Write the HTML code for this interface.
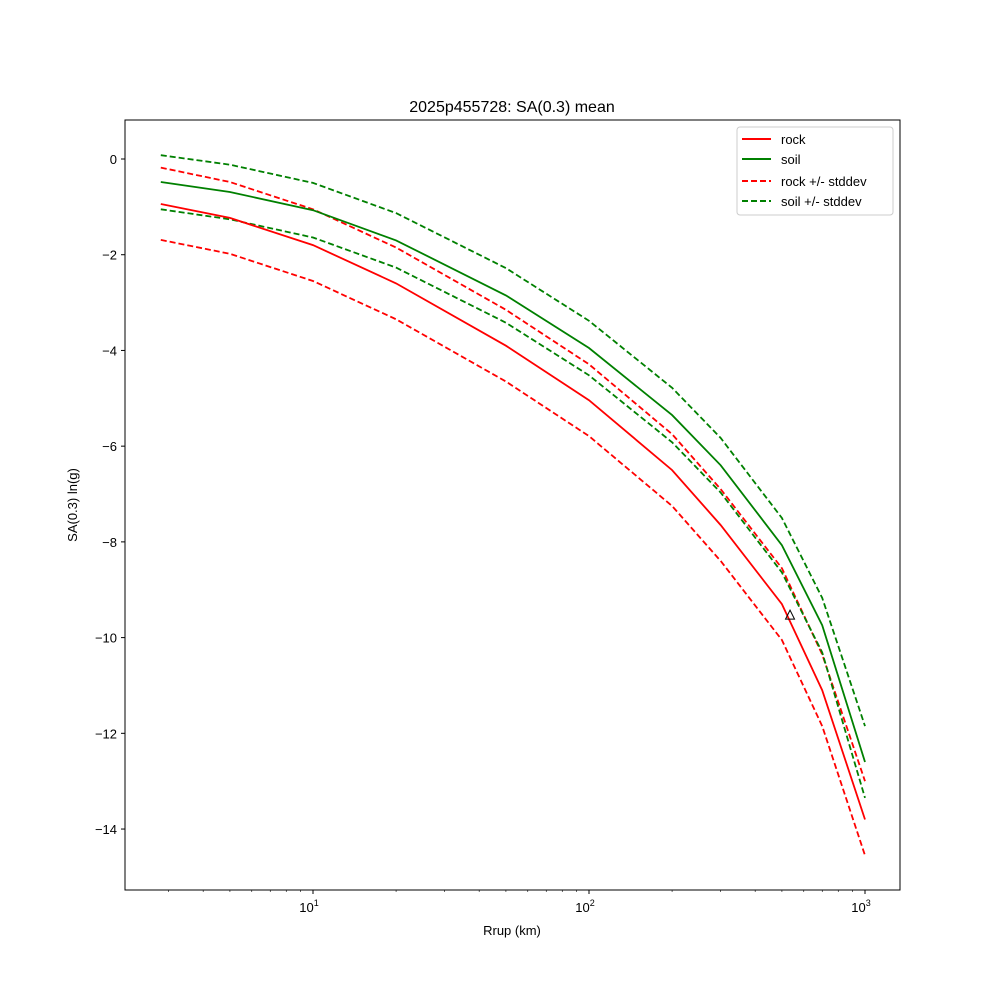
<!DOCTYPE html>
<html><head><meta charset="utf-8"><style>
body{margin:0;background:#fff;font-family:"Liberation Sans","DejaVu Sans",sans-serif}
</style></head><body>
<svg id="chart" width="1000" height="1000" xmlns="http://www.w3.org/2000/svg" font-family="Liberation Sans, DejaVu Sans, sans-serif">
<rect width="1000" height="1000" fill="#fff"/>
<text x="512" y="112" text-anchor="middle" font-size="16">2025p455728: SA(0.3) mean</text>
<g id="axes"></g>
<g id="series"></g>
<rect x="125" y="120" width="775" height="770" fill="none" stroke="#000" stroke-width="1"/>
<text x="512" y="935" text-anchor="middle" font-size="13">Rrup (km)</text>
<text transform="translate(77,505) rotate(-90)" text-anchor="middle" font-size="13">SA(0.3) ln(g)</text>
<g>
<rect x="737" y="127" width="156" height="88" fill="#fff" stroke="#ccc" rx="3"/>
<line x1="742" y1="139" x2="771" y2="139" stroke="red" stroke-width="2"/>
<text x="781" y="144" font-size="13">rock</text>
<line x1="742" y1="159" x2="771" y2="159" stroke="green" stroke-width="2"/>
<text x="781" y="164" font-size="13">soil</text>
<line x1="742" y1="181" x2="771" y2="181" stroke="red" stroke-width="2" stroke-dasharray="6,3"/>
<text x="781" y="186" font-size="13">rock +/- stddev</text>
<line x1="742" y1="201" x2="771" y2="201" stroke="green" stroke-width="2" stroke-dasharray="6,3"/>
<text x="781" y="206" font-size="13">soil +/- stddev</text>
</g>
</svg>
<script>
const distances=[2.81,5,10,20,50,100,200,300,500,700,1000];
const rock=[-0.94,-1.23,-1.8,-2.6,-3.9,-5.04,-6.5,-7.65,-9.3,-11.1,-13.8];
const rockUpper=[-0.18,-0.48,-1.05,-1.85,-3.15,-4.29,-5.75,-6.9,-8.55,-10.35,-13.0];
const rockLower=[-1.69,-1.98,-2.55,-3.35,-4.65,-5.79,-7.25,-8.4,-10.05,-11.85,-14.55];
const soil=[-0.48,-0.69,-1.07,-1.7,-2.85,-3.95,-5.35,-6.4,-8.07,-9.74,-12.6];
const soilUpper=[0.08,-0.12,-0.5,-1.13,-2.28,-3.38,-4.78,-5.83,-7.5,-9.17,-11.85];
const soilLower=[-1.05,-1.26,-1.64,-2.27,-3.42,-4.52,-5.92,-6.97,-8.64,-10.31,-13.35];
const yTicks=[0,-2,-4,-6,-8,-10,-12,-14];
const xDecades=[1,2,3];
const marker=[535,-9.53];
const NS="http://www.w3.org/2000/svg";
const X=v=>313+(Math.log10(v)-1)*276;
const Y=v=>159-v*47.86;
const axes=document.getElementById('axes'),ser=document.getElementById('series');
function mk(t,a,p){const e=document.createElementNS(NS,t);for(const k in a)e.setAttribute(k,a[k]);p.appendChild(e);return e;}
yTicks.forEach(t=>{
 const l=mk('line',{x1:121,x2:125,y1:Y(t),y2:Y(t),stroke:'#000'},axes);
 
 
 const tx=mk('text',{x:117,y:Y(t)+5,'text-anchor':'end','font-size':13},axes);
 
 
 tx.textContent=t<0?'\u2212'+(-t):String(t);
});
xDecades.forEach(d=>{
 const x=X(Math.pow(10,d));
 const l=mk('line',{x1:x,x2:x,y1:890,y2:894,stroke:'#000'},axes);
 
 
 const tx=mk('text',{x:x-4,y:912,'text-anchor':'middle','font-size':13},axes);
 
 
 tx.textContent='10';
 const s=mk('tspan',{dy:-6,'font-size':9},tx);s.textContent=String(d);
});
for(let d=0;d<=3;d++)for(let m=2;m<=9;m++){
 const v=m*Math.pow(10,d);const x=X(v);if(x<125||x>900)continue;
 const l=mk('line',{x1:x,x2:x,y1:890,y2:892,stroke:'#000','stroke-width':0.6},axes);
 
 
}
function line(arr,col,dash,name){
 const d=distances.map((v,i)=>(i?'L':'M')+X(v).toFixed(1)+','+Y(arr[i]).toFixed(1)).join('');
 const p=mk('path',{d:d,fill:'none',stroke:col,'stroke-width':1.8},ser);
 if(dash)p.setAttribute('stroke-dasharray','6,3');
 
 
}
line(rockUpper,'red',true,'rock-upper-line');
line(rockLower,'red',true,'rock-lower-line');
line(soilUpper,'green',true,'soil-upper-line');
line(soilLower,'green',true,'soil-lower-line');
line(rock,'red',false,'rock-line');
line(soil,'green',false,'soil-line');
const mx=X(marker[0]),my=Y(marker[1]);
const tri=mk('path',{d:`M${mx},${my-5}L${mx-4.5},${my+4}L${mx+4.5},${my+4}Z`,fill:'none',stroke:'#000','stroke-width':1},ser);


</script>
</body></html>
